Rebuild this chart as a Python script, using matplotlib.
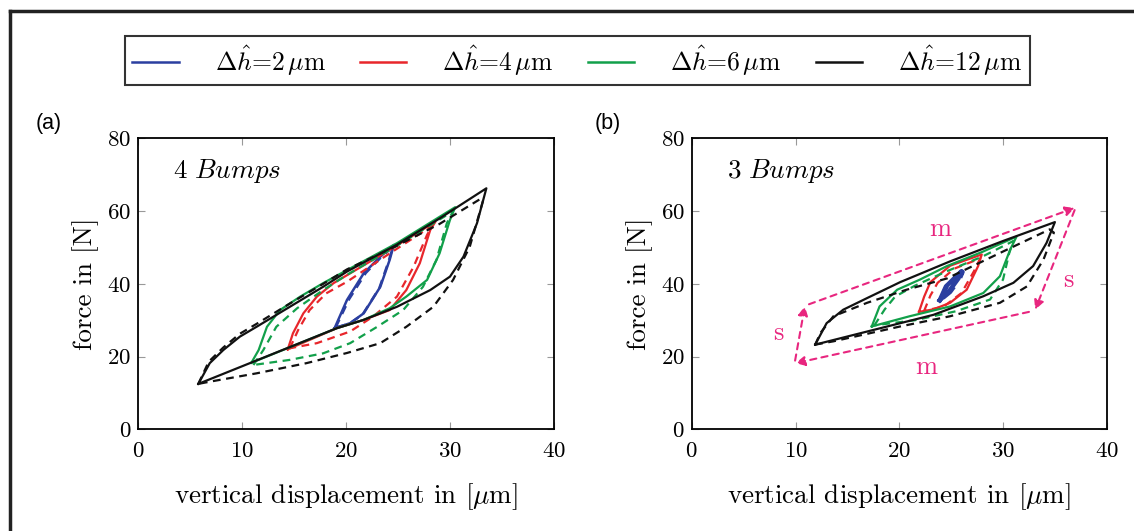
import matplotlib
matplotlib.use('Agg')
import matplotlib.pyplot as plt
from matplotlib.lines import Line2D

plt.rcParams['font.family'] = ['cmr10', 'DejaVu Serif']
plt.rcParams['mathtext.fontset'] = 'cm'
plt.rcParams['axes.formatter.use_mathtext'] = True

# each loop: lower-left corner -> loading branch -> peak -> unloading branch -> back
labels = ['2', '4', '6', '12']
colors = ['#2b3fa0', '#e8262b', '#12a04a', '#111111']

# panel (a) 4 Bumps
a_solid_x = [
    [18.9, 20.1, 21.7, 23.3, 24.6, 24.2, 23.3, 21.7, 20.4, 18.9],
    [14.4, 14.9, 15.9, 17.2, 18.8, 20.1, 24.0, 28.6, 28.1, 27.1, 25.8, 24.2, 21.7, 19.1, 14.4],
    [10.9, 11.6, 12.4, 13.65, 15.6, 17.8, 20.1, 24.9, 30.5, 30.0, 29.0, 27.8, 25.8, 24.2, 21.7, 19.1, 10.9],
    [5.8, 6.9, 8.2, 9.8, 11.4, 14.6, 17.8, 20.1, 24.9, 29.0, 33.5, 32.6, 31.3, 30.0, 28.1, 24.9, 21.7, 19.1, 5.8],
]
a_solid_y = [
    [27.8, 35.6, 42.9, 47.5, 50.7, 46.6, 39.2, 31.9, 29.2, 27.8],
    [22.0, 26.4, 31.9, 36.5, 40.2, 42.4, 49.0, 57.1, 54.8, 45.7, 38.3, 32.8, 30.1, 27.8, 22.0],
    [18.3, 21.8, 28.2, 32.8, 36.5, 40.2, 43.8, 51.2, 61.1, 57.6, 48.4, 41.1, 36.5, 33.3, 30.1, 27.8, 18.3],
    [12.5, 18.2, 21.8, 25.5, 28.2, 33.7, 39.2, 43.4, 50.8, 58.0, 66.3, 56.7, 47.5, 42.0, 38.3, 33.7, 30.1, 27.8, 12.5],
]
a_dash_x = [
    [19.0, 20.3, 21.9, 23.4, 24.5, 24.1, 23.2, 21.6, 20.3, 19.0],
    [14.6, 15.4, 16.5, 18.1, 20.1, 24.0, 28.3, 27.8, 26.5, 24.9, 22.6, 20.4, 17.2, 14.6],
    [11.1, 12.05, 13.3, 15.3, 17.8, 20.1, 24.9, 30.3, 29.7, 28.7, 27.4, 25.5, 23.0, 20.4, 17.8, 14.6, 11.1],
    [5.8, 6.8, 8.2, 9.8, 11.4, 14.6, 17.8, 20.1, 24.9, 29.0, 33.0, 33.2, 31.9, 30.3, 28.4, 25.8, 23.3, 20.1, 16.2, 11.4, 6.9, 5.8],
]
a_dash_y = [
    [28.0, 35.8, 43.0, 47.4, 50.2, 46.2, 38.8, 31.6, 29.0, 28.0],
    [22.3, 27.3, 32.8, 37.4, 40.6, 48.0, 56.0, 53.5, 44.7, 36.5, 31.0, 26.9, 23.7, 22.3],
    [17.7, 21.8, 28.2, 33.3, 38.3, 42.5, 50.5, 60.0, 56.7, 46.6, 39.2, 32.8, 28.2, 23.7, 20.9, 19.1, 17.7],
    [12.5, 18.6, 22.5, 26.3, 29.0, 34.6, 40.0, 44.0, 50.5, 56.5, 63.5, 63.1, 50.2, 41.1, 33.7, 28.2, 23.7, 21.0, 18.2, 15.4, 13.1, 12.5],
]

# panel (b) 3 Bumps
b_solid_x = [
    [23.9, 24.5, 26.0, 25.7, 24.8, 23.9],
    [21.9, 22.4, 23.0, 24.9, 27.95, 27.6, 26.5, 24.9, 23.3, 21.9],
    [17.35, 18.1, 19.8, 22.0, 24.6, 28.0, 31.3, 30.7, 29.7, 28.1, 24.9, 21.0, 17.35],
    [11.9, 13.0, 14.6, 16.9, 20.1, 24.9, 30.0, 35.0, 34.2, 32.9, 31.0, 28.1, 23.3, 11.9],
]
b_solid_y = [
    [35.5, 39.3, 43.5, 41.5, 38.0, 35.5],
    [32.3, 36.5, 40.5, 45.0, 48.1, 44.9, 38.4, 34.8, 33.0, 32.3],
    [28.3, 33.8, 38.4, 41.2, 44.9, 48.8, 53.0, 49.5, 42.1, 37.5, 33.8, 31.1, 28.3],
    [23.3, 29.2, 32.9, 36.1, 40.5, 46.2, 51.8, 57.0, 51.3, 44.9, 40.3, 36.6, 31.5, 23.3],
]
b_dash_x = [
    [24.0, 24.6, 26.1, 25.8, 24.9, 24.0],
    [22.4, 23.0, 23.7, 25.3, 27.8, 27.2, 26.0, 24.3, 22.4],
    [17.6, 18.6, 19.6, 21.5, 24.6, 28.0, 31.0, 30.6, 30.0, 28.75, 25.5, 21.5, 17.6],
    [11.9, 12.4, 13.65, 16.9, 20.7, 24.6, 29.7, 34.5, 34.9, 33.9, 32.3, 29.7, 24.9, 20.1, 13.65, 11.9],
]
b_dash_y = [
    [35.7, 39.5, 43.3, 41.3, 37.8, 35.7],
    [32.6, 36.8, 40.3, 44.2, 47.0, 43.5, 37.5, 33.8, 32.6],
    [28.6, 33.0, 36.5, 39.5, 43.5, 47.5, 51.8, 48.5, 41.2, 35.7, 32.5, 30.0, 28.6],
    [23.3, 26.5, 31.1, 34.8, 38.4, 41.5, 48.5, 55.0, 54.1, 46.7, 39.3, 34.8, 31.1, 28.3, 24.2, 23.3],
]

# magenta arrows in (b): start and end points, labels
arr_start = [(9.96, 18.9), (11.3, 34.4), (36.9, 60.3), (32.5, 32.3)]
arr_end = [(10.9, 33.9), (36.9, 60.9), (33.1, 32.9), (10.0, 18.2)]
arr_labels = ['s', 'm', 's', 'm']
arr_label_pos = [(8.35, 26.4), (23.9, 55.0), (36.3, 41.1), (22.6, 17.0)]
pink = '#e8267f'

fig = plt.figure(figsize=(11.34, 5.31), dpi=100)
ax_a = fig.add_axes([0.1217, 0.1915, 0.3668, 0.5477])
ax_b = fig.add_axes([0.61, 0.1915, 0.366, 0.5477])


def draw_panel(ax, sx, sy, dx, dy, title, lw_blue):
    for i in range(4):
        lw = lw_blue if i == 0 else 1.6
        ax.plot(dx[i], dy[i], color=colors[i], lw=lw, ls=(0, (3.5, 2.5)))
        ax.plot(sx[i], sy[i], color=colors[i], lw=lw)
    ax.set_xlim(0, 40)
    ax.set_ylim(0, 80)
    ax.set_xticks([0, 10, 20, 30, 40])
    ax.set_yticks([0, 20, 40, 60, 80])
    ax.tick_params(direction='in', top=True, right=True, labelsize=16.5,
                   color='#999999', length=5, pad=5)
    ax.tick_params(axis='x', pad=9)
    for sp in ax.spines.values():
        sp.set_linewidth(1.3)
    ax.set_xlabel(r'vertical displacement in [$\mu$m]', fontsize=19.5, labelpad=14)
    ax.set_ylabel('force in [N]', fontsize=19.5, labelpad=6)
    ax.text(3.4, 71, title, fontsize=19.5, va='center')


draw_panel(ax_a, a_solid_x, a_solid_y, a_dash_x, a_dash_y, r'$4\ \mathit{Bumps}$', 1.8)
draw_panel(ax_b, b_solid_x, b_solid_y, b_dash_x, b_dash_y, r'$3\ \mathit{Bumps}$', 3.2)

for (x0, y0), (x1, y1) in zip(arr_start, arr_end):
    ax_b.annotate('', xy=(x1, y1), xytext=(x0, y0),
                  arrowprops=dict(arrowstyle='-|>,head_length=0.55,head_width=0.28',
                                  color=pink, lw=1.5, ls=(0, (3, 2.5)),
                                  shrinkA=0, shrinkB=0))
for t, (x, y) in zip(arr_labels, arr_label_pos):
    ax_b.text(x, y, t, color=pink, fontsize=19, ha='center', va='center')

fig.text(0.031, 0.757, '(a)', fontsize=15.5, family='Liberation Sans')
fig.text(0.524, 0.757, '(b)', fontsize=15.5, family='Liberation Sans')

handles = [Line2D([], [], color=c, lw=1.8) for c in colors]
leg_labels = [r'$\Delta\hat{h}$=' + v + r'$\,\mu$m' for v in labels]
leg = fig.legend(handles, leg_labels, ncol=4, loc='center',
                 bbox_to_anchor=(0.110, 0.834, 0.798, 0.104), mode='expand',
                 fontsize=18.5, frameon=True, fancybox=False, handlelength=1.8,
                 handletextpad=1.4, borderaxespad=0, borderpad=0.3)
leg.get_frame().set_edgecolor('black')
leg.get_frame().set_linewidth(1.5)

# partial outer frame (top and left)
fig.add_artist(Line2D([0.009, 1.0], [0.98, 0.98], color='#222222', lw=2.5))
fig.add_artist(Line2D([0.009, 0.009], [0.0, 0.98], color='#222222', lw=2.5))

fig.savefig('out.png', dpi=100)
